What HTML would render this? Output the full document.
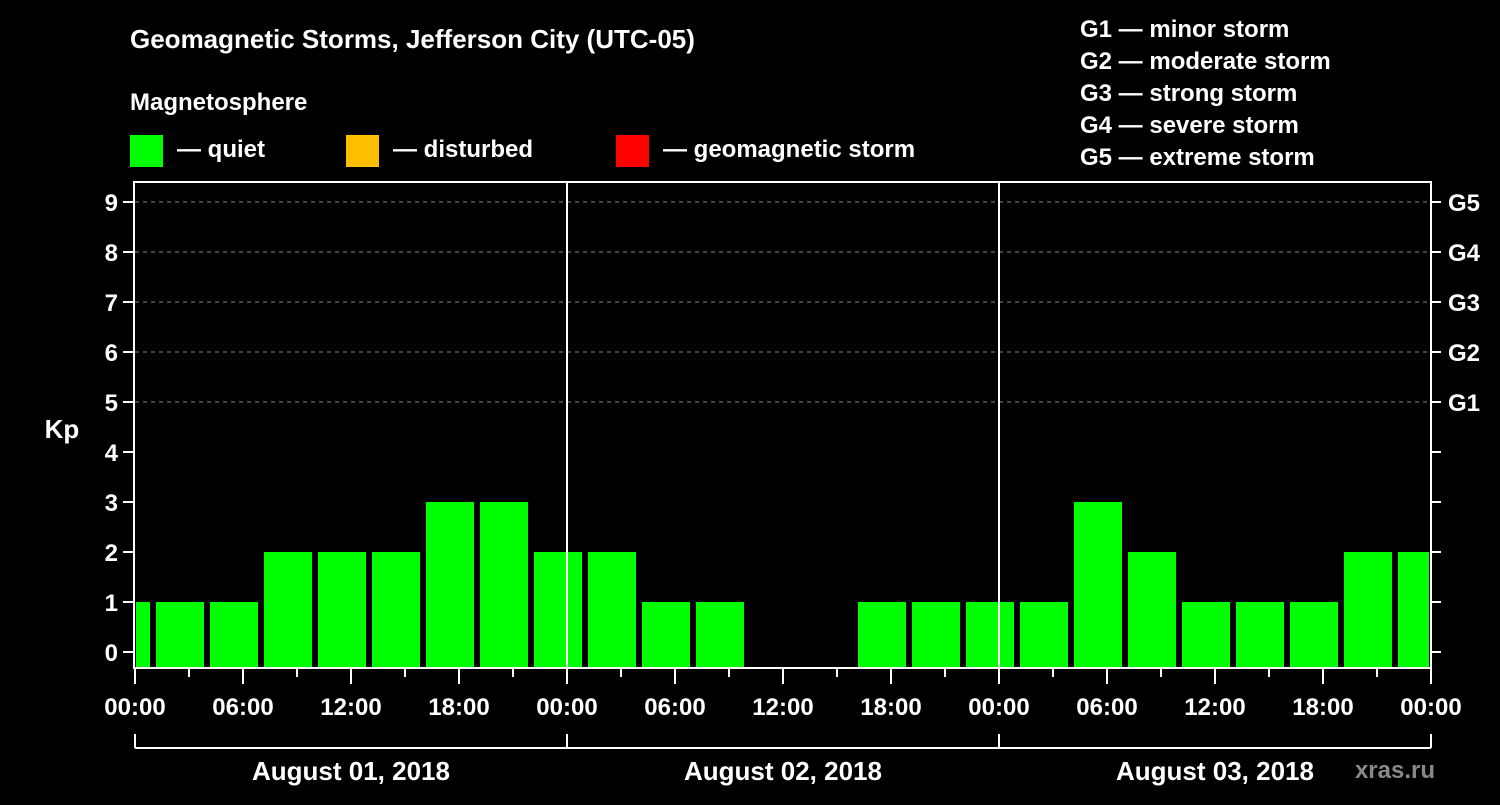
<!DOCTYPE html>
<html><head><meta charset="utf-8"><style>
body{margin:0;background:#000;width:1500px;height:800px;overflow:hidden}
svg text{font-family:"Liberation Sans",sans-serif;font-weight:bold;fill:#fff}
</style></head><body>
<svg id="c" width="1500" height="800">
<text x="130" y="48" font-size="26">Geomagnetic Storms, Jefferson City (UTC-05)</text>
<text x="130" y="110" font-size="24">Magnetosphere</text>
<rect x="130" y="135" width="33" height="32" fill="#00ff00"/>
<text x="177" y="157" font-size="24">— quiet</text>
<rect x="346" y="135" width="33" height="32" fill="#ffbf00"/>
<text x="393" y="157" font-size="24">— disturbed</text>
<rect x="616" y="135" width="33" height="32" fill="#ff0000"/>
<text x="663" y="157" font-size="24">— geomagnetic storm</text>
<g font-size="24">
<text x="1080" y="37">G1 — minor storm</text>
<text x="1080" y="69">G2 — moderate storm</text>
<text x="1080" y="101">G3 — strong storm</text>
<text x="1080" y="133">G4 — severe storm</text>
<text x="1080" y="165">G5 — extreme storm</text>
</g>
<text x="62" y="438" font-size="26" text-anchor="middle">Kp</text>
<text x="1435" y="778" font-size="24" text-anchor="end" fill="#888" style="fill:#888">xras.ru</text>
<g id="plot"></g>
</svg>
<script>
const kpValues=[1,1,1,2,2,2,3,3,2,2,1,1,0,0,1,1,1,1,3,2,1,1,1,2,2];
const xTickLabels=["00:00","06:00","12:00","18:00","00:00","06:00","12:00","18:00","00:00","06:00","12:00","18:00","00:00"];
const dayLabels=["August 01, 2018","August 02, 2018","August 03, 2018"];
const gLabels=["G1","G2","G3","G4","G5"];
const NS="http://www.w3.org/2000/svg";
const g=document.getElementById('plot');
const L=135,R=1431,T=182,B=668;
const hours=72;
const x=h=>L+(R-L)*h/hours;
const y=v=>652-50*v;
function mk(t,a){const e=document.createElementNS(NS,t);for(const k in a)e.setAttribute(k,a[k]);g.appendChild(e);return e;}
// grid
for(let v=5;v<=9;v++){const e=mk('line',{x1:L,x2:R,y1:y(v),y2:y(v),stroke:'#888','stroke-dasharray':'4,4','stroke-width':1});

}
// bars
kpValues.forEach((v,i)=>{if(v<=0)return;
let x0=x(i*3-1.833),x1=x0+48*(R-L)/1296;
x0=Math.max(x0,L+1);x1=Math.min(x1,R-2);
const e=mk('rect',{x:x0,y:y(v),width:x1-x0,height:y(-0.3)-y(v),fill:'#00ff00'});

});
// day separators
[24,48].forEach(h=>{const e=mk('line',{x1:x(h),x2:x(h),y1:T,y2:B,stroke:'#fff','stroke-width':2});

});
// frame
const f=mk('rect',{x:L-1,y:T,width:R-L+1,height:B-T,fill:'none',stroke:'#fff','stroke-width':2});


// y ticks
for(let v=0;v<=9;v++){
mk('line',{x1:L-12,x2:L-1,y1:y(v),y2:y(v),stroke:'#fff','stroke-width':2});
mk('line',{x1:R,x2:R+10,y1:y(v),y2:y(v),stroke:'#fff','stroke-width':2});
const t=mk('text',{x:L-17,y:y(v)+9,'font-size':24,'text-anchor':'end'});t.textContent=v;

}
gLabels.forEach((s,i)=>{const t=mk('text',{x:R+17,y:y(5+i)+9,'font-size':24});t.textContent=s;

});
// x ticks
for(let h=0;h<=hours;h+=3){const maj=h%6==0;
mk('line',{x1:x(h),x2:x(h),y1:B,y2:B+(maj?16:9),stroke:'#fff','stroke-width':2});}
xTickLabels.forEach((s,i)=>{const t=mk('text',{x:x(i*6),y:715,'font-size':24,'text-anchor':'middle'});t.textContent=s;

});
// day brackets
mk('line',{x1:L,x2:R,y1:748,y2:748,stroke:'#fff','stroke-width':2});
for(let d=0;d<=3;d++)mk('line',{x1:x(d*24),x2:x(d*24),y1:734,y2:748,stroke:'#fff','stroke-width':2});
dayLabels.forEach((s,i)=>{const t=mk('text',{x:x(i*24+12),y:780,'font-size':26,'text-anchor':'middle'});t.textContent=s;

});
</script>
</body></html>
